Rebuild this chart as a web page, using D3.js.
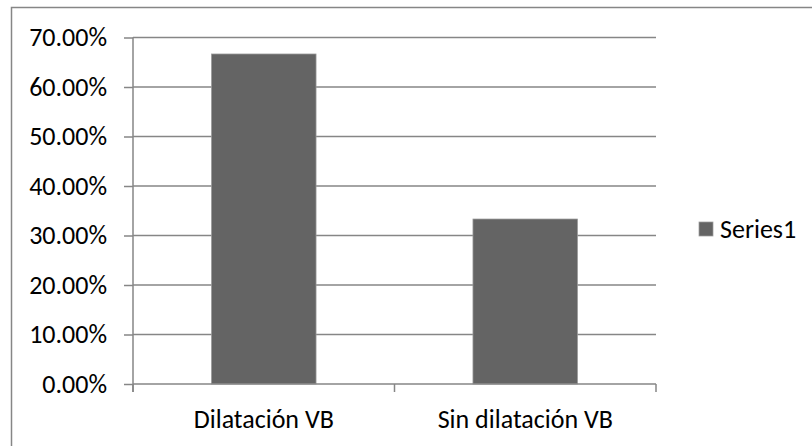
<!DOCTYPE html>
<html lang="es">
<head>
<meta charset="UTF-8">
<title>Dilatación VB</title>
<script src="https://cdn.jsdelivr.net/npm/d3@7"></script>
<style>
    body { margin: 0; background: #fff; }
    svg { display: block; }
    text { font-family: Carlito, Calibri, "Liberation Sans", Arial, sans-serif; font-size: 26px; fill: #000; }
</style>
</head>
<body>
<div id="chart"></div>
<script>

// data
const categories = ["Dilatación VB", "Sin dilatación VB"];
const series1 = [0.6667, 0.3333];
const yTicks = [0, 0.1, 0.2, 0.3, 0.4, 0.5, 0.6, 0.7];
const seriesName = "Series1";

const width = 812;
const height = 446;
const plot = { left: 133, right: 656, top: 37.5, bottom: 384 };
const gridColor = "#868686";

const svg = d3.select("#chart")
    .append("svg")
    .attr("width", width)
    .attr("height", height);

// chart frame (runs off the right/bottom edge like the original crop)
svg.append("rect")
    .attr("x", 11.5)
    .attr("y", 7.5)
    .attr("width", 900)
    .attr("height", 600)
    .attr("fill", "#fff")
    .attr("stroke", gridColor)
    .attr("stroke-width", 1.5);

const x = d3.scaleBand()
    .domain(categories)
    .range([plot.left, plot.right])
    .paddingInner(0.6)
    .paddingOuter(0.3);

const y = d3.scaleLinear()
    .domain([0, 0.7])
    .range([plot.bottom, plot.top]);

// gridlines
svg.append("g")
    .selectAll("line")
    .data(yTicks.slice(1))
    .join("line")
    .attr("x1", plot.left)
    .attr("x2", plot.right)
    .attr("y1", d => y(d))
    .attr("y2", d => y(d))
    .attr("stroke", gridColor)
    .attr("stroke-width", 1.5);

// bars
svg.append("g")
    .selectAll("rect")
    .data(series1)
    .join("rect")
    .attr("x", (d, i) => x(categories[i]))
    .attr("y", d => y(d))
    .attr("width", x.bandwidth())
    .attr("height", d => y(0) - y(d))
    .attr("fill", "#646464")
    .attr("stroke", "#9c9c9c")
    .attr("stroke-width", 0.75);

// y axis
const yAxis = d3.axisLeft(y)
    .tickValues(yTicks)
    .tickFormat(d3.format(".2%"))
    .tickSize(9)
    .tickPadding(17);

svg.append("g")
    .attr("transform", `translate(${plot.left},0)`)
    .call(yAxis)
    .call(g => g.select(".domain").remove())
    .call(g => g.selectAll(".tick line").attr("stroke", gridColor).attr("stroke-width", 1.5))
    .call(g => g.selectAll(".tick text").attr("font-size", null).attr("font-family", null).attr("fill", "#000"));

svg.append("line")
    .attr("x1", plot.left)
    .attr("x2", plot.left)
    .attr("y1", plot.top)
    .attr("y2", plot.bottom + 8)
    .attr("stroke", gridColor)
    .attr("stroke-width", 1.5);

// x axis baseline + category boundary ticks
svg.append("line")
    .attr("x1", plot.left)
    .attr("x2", plot.right)
    .attr("y1", y(0))
    .attr("y2", y(0))
    .attr("stroke", gridColor)
    .attr("stroke-width", 1.5);

const boundaries = [plot.left, (plot.left + plot.right) / 2, plot.right];
svg.append("g")
    .selectAll("line")
    .data(boundaries)
    .join("line")
    .attr("x1", d => d)
    .attr("x2", d => d)
    .attr("y1", y(0))
    .attr("y2", y(0) + 8)
    .attr("stroke", gridColor)
    .attr("stroke-width", 1.5);

svg.append("g")
    .selectAll("text")
    .data(categories)
    .join("text")
    .attr("x", d => x(d) + x.bandwidth() / 2)
    .attr("y", y(0) + 44)
    .attr("text-anchor", "middle")
    .text(d => d);

// legend
const legend = svg.append("g").attr("transform", "translate(699,222)");
legend.append("rect")
    .attr("width", 14)
    .attr("height", 14)
    .attr("fill", "#646464")
    .attr("stroke", "#9c9c9c")
    .attr("stroke-width", 0.75);
legend.append("text")
    .attr("x", 21)
    .attr("y", 16)
    .text(seriesName);

</script>
</body>
</html>
